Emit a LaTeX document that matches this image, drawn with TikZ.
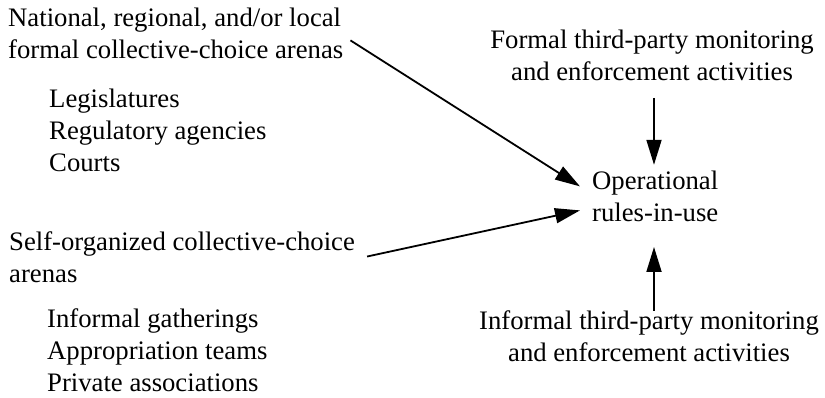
\documentclass[tikz,border=0pt]{standalone}
\usepackage{fontspec}
\setmainfont{Liberation Serif}
\usetikzlibrary{arrows.meta}

\begin{document}
\begin{tikzpicture}[x=1pt, y=-1pt,
  txt/.style={inner sep=0pt, font=\fontsize{26.7}{32}\selectfont},
  arr/.style={line width=1.8pt, -{Triangle[length=25pt,width=15pt]}}]
\useasboundingbox (0,0) rectangle (825,398);
%\draw[very thin,color=gray] (0,0) grid[step=50] (825,398);

% left column
\node[txt, anchor=north west, align=left] (natl) at (8,7.8) {National, regional, and/or local\\formal collective-choice arenas};
\node[txt, anchor=north west, align=left] (legis) at (49,88.8) {Legislatures\\Regulatory agencies\\Courts};
\node[txt, anchor=north west, align=left] (self) at (9,231.8) {Self-organized collective-choice\\arenas};
\node[txt, anchor=north west, align=left] (gather) at (47,308.8) {Informal gatherings\\Appropriation teams\\Private associations};

% right column
\node[txt, anchor=north, align=center] (formal) at (652,29.8) {Formal third-party monitoring\\and enforcement activities};
\node[txt, anchor=north west, align=left] (oper) at (592,170.8) {Operational\\rules-in-use};
\node[txt, anchor=north, align=center] (informal) at (649,310.8) {Informal third-party monitoring\\and enforcement activities};

\draw[arr] ([xshift=7pt,yshift=-7pt]natl.east) -- ([xshift=-12pt,yshift=10pt]oper.west);
\draw[arr] ([xshift=12pt,yshift=1pt]self.east) -- ([xshift=-12pt,yshift=-14pt]oper.west);
\draw[arr] ([xshift=2pt,yshift=-17pt]formal.south) -- ([xshift=2pt,yshift=6pt]formal.south |- oper.north);
\draw[arr] ([xshift=5pt]informal.north) -- ([xshift=5pt,yshift=-25pt]informal.north |- oper.south);

\end{tikzpicture}
\end{document}
